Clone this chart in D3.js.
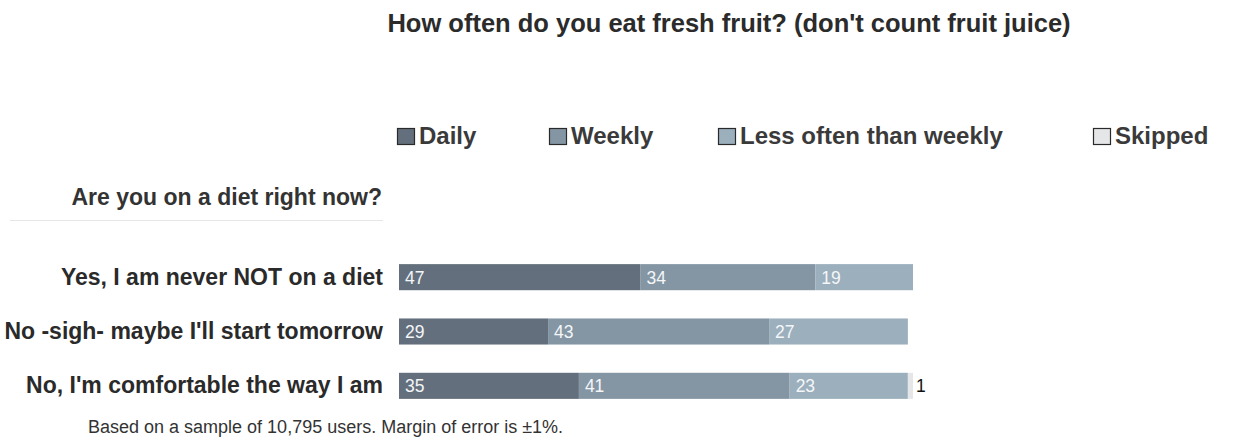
<!DOCTYPE html>
<html>
<head>
<meta charset="utf-8">
<script src="https://cdn.jsdelivr.net/npm/d3@7"></script>
<style>
  html, body { margin: 0; padding: 0; background: #fff; }
  svg { display: block; font-family: "Liberation Sans", Arial, sans-serif; }
</style>
</head>
<body>
<svg id="chart" width="1235" height="441"></svg>
<script>
const title = "How often do you eat fresh fruit? (don't count fruit juice)";
const rowHeader = "Are you on a diet right now?";
const footnote = "Based on a sample of 10,795 users. Margin of error is ±1%.";

const categories = [
  "Yes, I am never NOT on a diet",
  "No -sigh- maybe I'll start tomorrow",
  "No, I'm comfortable the way I am"
];
const seriesNames = ["Daily", "Weekly", "Less often than weekly", "Skipped"];
const daily = [47, 29, 35];
const weekly = [34, 43, 41];
const lessOften = [19, 27, 23];
const skipped = [0, 0, 1];
const seriesColors = ["#636f7c", "#8496a4", "#9bafbd", "#e4e6e8"];

const svg = d3.select("#chart");

// stacked rows
const rows = categories.map((c, i) => ({
  category: c,
  Daily: daily[i],
  Weekly: weekly[i],
  "Less often than weekly": lessOften[i],
  Skipped: skipped[i]
}));
const stacked = d3.stack().keys(seriesNames)(rows);

const x = d3.scaleLinear().domain([0, 100]).range([399, 913]);
const y = d3.scaleBand().domain(categories).range([250, 413]).paddingInner(0.52).paddingOuter(0.26);

// title
svg.append("text")
  .attr("x", 729).attr("y", 32)
  .attr("text-anchor", "middle")
  .attr("font-size", 25.5).attr("font-weight", "bold")
  .attr("fill", "#2b2b2b")
  .text(title);

// legend
const legendX = [397, 549, 718, 1093];
const legend = svg.append("g");
seriesNames.forEach((name, i) => {
  const g = legend.append("g").attr("transform", `translate(${legendX[i]},128)`);
  g.append("rect").attr("x", 0.5).attr("y", 0.5).attr("width", 17).attr("height", 16)
    .attr("fill", seriesColors[i]).attr("stroke", "#2a2a2a").attr("stroke-width", 1.2);
  g.append("text").attr("x", 22).attr("y", 16)
    .attr("font-size", 24).attr("font-weight", "bold").attr("fill", "#3a3a3a")
    .text(name);
});

// row header and rule
svg.append("text")
  .attr("x", 382).attr("y", 205)
  .attr("text-anchor", "end")
  .attr("font-size", 23).attr("font-weight", "bold").attr("fill", "#333")
  .text(rowHeader);
svg.append("line")
  .attr("x1", 10).attr("x2", 383).attr("y1", 220.5).attr("y2", 220.5)
  .attr("stroke", "#e6e6e6").attr("stroke-width", 1);

// category labels
svg.append("g").selectAll("text").data(categories).join("text")
  .attr("x", 383)
  .attr("y", d => y(d) + y.bandwidth() / 2 + 7.5)
  .attr("text-anchor", "end")
  .attr("font-size", 23).attr("font-weight", "bold").attr("fill", "#2a2a2a")
  .text(d => d);

// bars
const layers = svg.append("g").selectAll("g").data(stacked).join("g")
  .attr("fill", (d, i) => seriesColors[i]);
layers.selectAll("rect").data(d => d).join("rect")
  .attr("x", d => x(d[0]))
  .attr("y", d => y(d.data.category))
  .attr("width", d => x(d[1]) - x(d[0]))
  .attr("height", y.bandwidth());

// value labels
stacked.forEach((layer, si) => {
  layer.forEach(d => {
    const v = d[1] - d[0];
    if (!v) return;
    const w = x(d[1]) - x(d[0]);
    const inside = w > 20;
    svg.append("text")
      .attr("x", inside ? x(d[0]) + 6 : x(d[1]) + 3)
      .attr("y", y(d.data.category) + y.bandwidth() / 2 + 6.5)
      .attr("font-size", 17.5)
      .attr("fill", inside ? "#f4f6f8" : "#111")
      .text(v);
  });
});

// footnote
svg.append("text")
  .attr("x", 88).attr("y", 433)
  .attr("font-size", 18).attr("fill", "#333")
  .text(footnote);
</script>
</body>
</html>
